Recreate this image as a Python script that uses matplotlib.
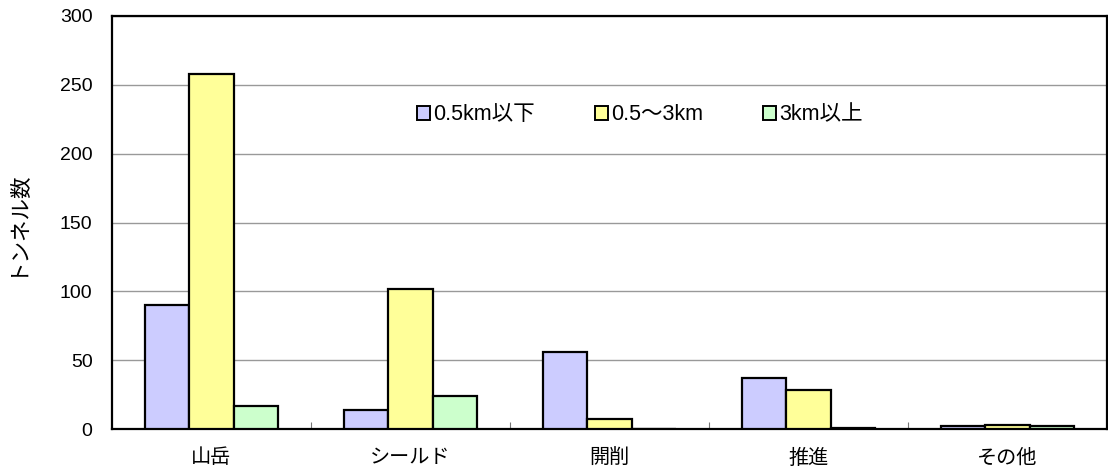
import matplotlib
matplotlib.use("Agg")
import matplotlib.pyplot as plt
import numpy as np
from matplotlib.patches import Patch
from matplotlib.ticker import FixedLocator, NullFormatter

plt.rcParams['font.family'] = ['Liberation Sans', 'Noto Sans CJK JP', 'DejaVu Sans']

categories = ["山岳", "シールド", "開削", "推進", "その他"]
series_names = ["0.5km以下", "0.5～3km", "3km以上"]
short = [90, 14, 56, 37, 2]
mid = [258, 102, 7, 28, 3]
long_ = [17, 24, 0, 1, 2]
yticks = [0, 50, 100, 150, 200, 250, 300]

colors = ["#CCCCFF", "#FFFF99", "#CCFFCC"]

fig = plt.figure(figsize=(11.08, 4.68), dpi=100)
ax = fig.add_axes([112/1108, 1-429/468, (1107-112)/1108, (429-16)/468])

x = np.arange(len(categories))
w = 0.222
for i, (vals, c) in enumerate(zip([short, mid, long_], colors)):
    ax.bar(x + (i-1)*w, vals, width=w, color=c, edgecolor="black", linewidth=1.6, zorder=3)

ax.set_xlim(-0.5, len(categories)-0.5)
ax.set_ylim(0, 300)
ax.set_yticks(yticks)
ax.yaxis.grid(True, color="#999999", linewidth=1, zorder=0)
ax.tick_params(axis='y', length=0, labelsize=14, pad=14)

ax.xaxis.set_major_locator(FixedLocator(np.arange(0.5, len(categories)-0.5, 1)))
ax.xaxis.set_major_formatter(NullFormatter())
ax.xaxis.set_minor_locator(FixedLocator(x))
ax.set_xticklabels(categories, minor=True, fontsize=14.5)
ax.tick_params(axis='x', which='major', direction='in', length=5, color="#777777")
ax.tick_params(axis='x', which='minor', length=0, pad=14)

for s in ax.spines.values():
    s.set_linewidth(1.6)

ax.set_ylabel("トンネル数", fontsize=15.5, labelpad=24)

handles = [Patch(facecolor=c, edgecolor="black", linewidth=1.4) for c in colors]
ax.legend(handles, series_names, ncol=3, frameon=False, fontsize=15.5,
          handlelength=0.6, handleheight=0.6, handletextpad=0.15, columnspacing=2.8,
          loc="center", bbox_to_anchor=((640-112)/995, (429-115)/413))

fig.savefig("out.png", dpi=100)
